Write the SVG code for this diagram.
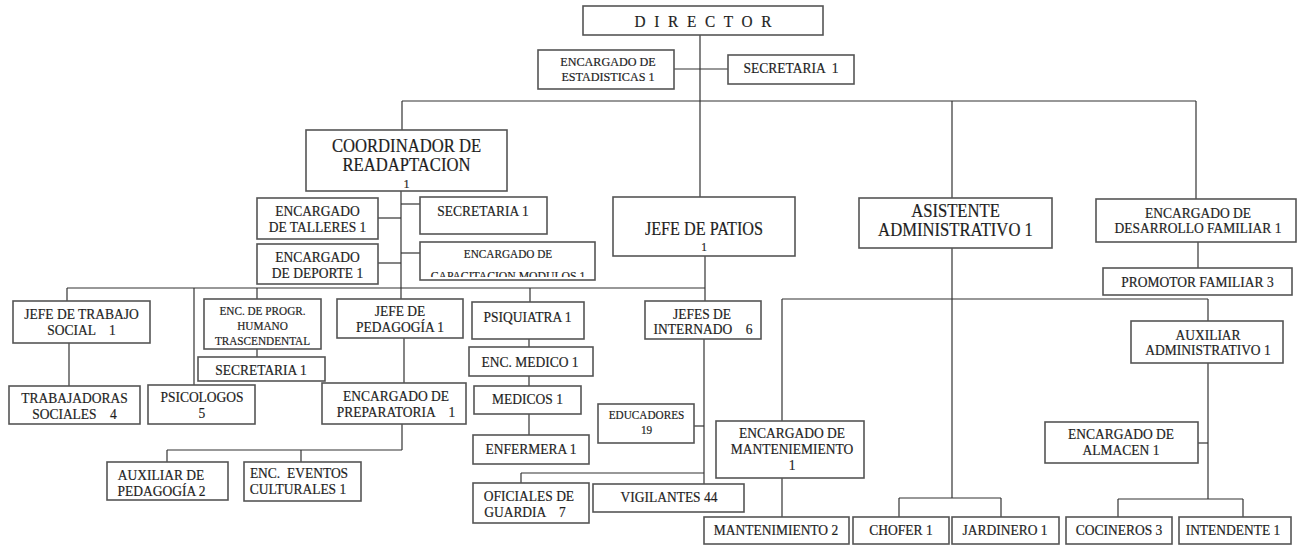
<svg xmlns="http://www.w3.org/2000/svg" width="1302" height="546" viewBox="0 0 1302 546">
<style>
.b{fill:#fff;stroke:#555;stroke-width:1.6}
.c line{stroke:#333;stroke-width:1.2}
text{font-family:"Liberation Serif","Times New Roman",serif;fill:#1e1e1e;stroke:#1e1e1e;stroke-width:.2;text-anchor:middle;font-size:15px;transform-box:fill-box;transform-origin:center;transform:scaleX(.9)}
.L{font-size:18.5px}
.S{font-size:12.5px}
</style>
<defs><clipPath id="capclip"><rect x="420" y="242" width="175" height="35"/></clipPath></defs>
<g class="c">
<line x1="700" y1="35" x2="700" y2="197"/>
<line x1="674" y1="69" x2="728" y2="69"/>
<line x1="402" y1="101" x2="1196" y2="101"/>
<line x1="402" y1="101" x2="402" y2="130"/>
<line x1="952" y1="101" x2="952" y2="198"/>
<line x1="1196" y1="101" x2="1196" y2="199"/>
<line x1="401" y1="191" x2="401" y2="299"/>
<line x1="378" y1="218" x2="401" y2="218"/>
<line x1="378" y1="263" x2="401" y2="263"/>
<line x1="401" y1="204" x2="420" y2="204"/>
<line x1="401" y1="253" x2="420" y2="253"/>
<line x1="67" y1="288" x2="705" y2="288"/>
<line x1="67" y1="288" x2="67" y2="301"/>
<line x1="194" y1="288" x2="194" y2="385"/>
<line x1="257" y1="288" x2="257" y2="299"/>
<line x1="530" y1="288" x2="530" y2="302"/>
<line x1="69" y1="343" x2="69" y2="386"/>
<line x1="257" y1="349" x2="257" y2="357"/>
<line x1="404" y1="338" x2="404" y2="383"/>
<line x1="402" y1="424" x2="402" y2="450"/>
<line x1="167" y1="450" x2="402" y2="450"/>
<line x1="167" y1="450" x2="167" y2="462"/>
<line x1="301" y1="450" x2="301" y2="462"/>
<line x1="529" y1="339" x2="529" y2="347"/>
<line x1="529" y1="376" x2="529" y2="386"/>
<line x1="529" y1="414" x2="529" y2="435"/>
<line x1="705" y1="256" x2="705" y2="301"/>
<line x1="704" y1="339" x2="704" y2="484"/>
<line x1="694" y1="426" x2="704" y2="426"/>
<line x1="521" y1="473" x2="704" y2="473"/>
<line x1="521" y1="473" x2="521" y2="483"/>
<line x1="952" y1="248" x2="952" y2="498"/>
<line x1="899" y1="498" x2="1001" y2="498"/>
<line x1="899" y1="498" x2="899" y2="517"/>
<line x1="1001" y1="498" x2="1001" y2="517"/>
<line x1="782" y1="299" x2="1208" y2="299"/>
<line x1="782" y1="299" x2="782" y2="421"/>
<line x1="782" y1="478" x2="782" y2="517"/>
<line x1="1208" y1="299" x2="1208" y2="321"/>
<line x1="1198" y1="242" x2="1198" y2="268"/>
<line x1="1208" y1="363" x2="1208" y2="499"/>
<line x1="1118" y1="499" x2="1243" y2="499"/>
<line x1="1118" y1="499" x2="1118" y2="517"/>
<line x1="1243" y1="499" x2="1243" y2="517"/>
<line x1="1198" y1="443" x2="1208" y2="443"/>
</g>
<g id="director"><rect class="b" x="583" y="6" width="240" height="29"/><text x="703" y="27" textLength="152" lengthAdjust="spacing" style="font-size:17px">DIRECTOR</text></g>
<g id="estadisticas"><rect class="b" x="538" y="50" width="136" height="39"/><text x="608" y="66" style="font-size:13.5px">ENCARGADO DE</text><text x="608" y="81" style="font-size:13.5px">ESTADISTICAS 1</text></g>
<g id="secretaria-dir"><rect class="b" x="728" y="55" width="126" height="29"/><text x="791" y="73" xml:space="preserve">SECRETARIA  1</text></g>
<g id="coordinador"><rect class="b" x="306" y="130" width="201" height="61"/><text x="406.5" y="152" class="L">COORDINADOR DE</text><text x="406.5" y="171" class="L">READAPTACION</text><text x="406.5" y="188.5" style="font-size:13.5px">1</text></g>
<g id="jefe-patios"><rect class="b" x="613" y="197" width="182" height="59"/><text x="704" y="235.5" class="L" style="font-size:18px">JEFE DE PATIOS</text><text x="704" y="251" style="font-size:12.5px">1</text></g>
<g id="asistente"><rect class="b" x="859" y="198" width="193" height="50"/><text x="955.5" y="217" class="L">ASISTENTE</text><text x="955.5" y="236.5" class="L">ADMINISTRATIVO 1</text></g>
<g id="desarrollo"><rect class="b" x="1096" y="199" width="200" height="43"/><text x="1198" y="218">ENCARGADO DE</text><text x="1198" y="233.5">DESARROLLO FAMILIAR 1</text></g>
<g id="promotor"><rect class="b" x="1103" y="268" width="189" height="27"/><text x="1197.5" y="287">PROMOTOR FAMILIAR 3</text></g>
<g id="talleres"><rect class="b" x="257" y="198" width="121" height="41"/><text x="317.5" y="216.5">ENCARGADO</text><text x="317.5" y="232">DE TALLERES 1</text></g>
<g id="deporte"><rect class="b" x="257" y="244" width="121" height="40"/><text x="317.5" y="262.5">ENCARGADO</text><text x="317.5" y="278">DE DEPORTE 1</text></g>
<g id="secretaria-coord"><rect class="b" x="420" y="197" width="127" height="37"/><text x="483" y="216">SECRETARIA 1</text></g>
<g id="capacitacion"><rect class="b" x="420" y="242" width="175" height="38"/><text x="508" y="258" class="S">ENCARGADO DE</text><g clip-path="url(#capclip)"><text x="508" y="280" style="font-size:13px">CAPACITACION  MODULOS 1</text></g></g>
<g id="trabajo-social"><rect class="b" x="13" y="301" width="137" height="42"/><text x="81.5" y="319.5">JEFE DE TRABAJO</text><text x="81.5" y="335" xml:space="preserve">SOCIAL    1</text></g>
<g id="trabajadoras"><rect class="b" x="9" y="386" width="131" height="38"/><text x="74.5" y="403.5">TRABAJADORAS</text><text x="74.5" y="419" xml:space="preserve">SOCIALES    4</text></g>
<g id="psicologos"><rect class="b" x="148" y="385" width="107" height="39"/><text x="202" y="402.5">PSICOLOGOS</text><text x="202" y="418">5</text></g>
<g id="progr-humano"><rect class="b" x="204" y="299" width="117" height="50"/><text x="262.5" y="315.5" class="S">ENC. DE PROGR.</text><text x="262.5" y="330" class="S">HUMANO</text><text x="262.5" y="345" class="S">TRASCENDENTAL</text></g>
<g id="secretaria-progr"><rect class="b" x="198" y="357" width="127" height="24"/><text x="261" y="375">SECRETARIA 1</text></g>
<g id="pedagogia"><rect class="b" x="337" y="299" width="126" height="39"/><text x="400" y="316.5">JEFE DE</text><text x="400" y="332.5">PEDAGOGÍA 1</text></g>
<g id="preparatoria"><rect class="b" x="322" y="383" width="144" height="41"/><text x="396" y="401.5">ENCARGADO DE</text><text x="396" y="417" xml:space="preserve">PREPARATORIA    1</text></g>
<g id="aux-pedagogia"><rect class="b" x="107" y="462" width="121" height="38"/><text x="161" y="480">AUXILIAR DE</text><text x="161.5" y="496">PEDAGOGÍA 2</text></g>
<g id="eventos"><rect class="b" x="244" y="462" width="117" height="39"/><text x="299" y="478.5" xml:space="preserve">ENC.  EVENTOS</text><text x="298" y="494">CULTURALES 1</text></g>
<g id="psiquiatra"><rect class="b" x="472" y="302" width="112" height="37"/><text x="527.5" y="322">PSIQUIATRA 1</text></g>
<g id="enc-medico"><rect class="b" x="469" y="347" width="124" height="29"/><text x="530" y="367">ENC. MEDICO 1</text></g>
<g id="medicos"><rect class="b" x="474" y="386" width="107" height="28"/><text x="527.5" y="404">MEDICOS 1</text></g>
<g id="enfermera"><rect class="b" x="473" y="435" width="116" height="29"/><text x="531" y="454">ENFERMERA 1</text></g>
<g id="oficiales"><rect class="b" x="473" y="483" width="116" height="40"/><text x="529" y="501.5">OFICIALES DE</text><text x="525" y="517" xml:space="preserve">GUARDIA    7</text></g>
<g id="vigilantes"><rect class="b" x="593" y="484" width="151" height="28"/><text x="669" y="502">VIGILANTES 44</text></g>
<g id="jefes-internado"><rect class="b" x="645" y="301" width="116" height="38"/><text x="702" y="319">JEFES DE</text><text x="703" y="334.5" xml:space="preserve">INTERNADO    6</text></g>
<g id="educadores"><rect class="b" x="598" y="404" width="96" height="39"/><text x="646.5" y="419" class="S">EDUCADORES</text><text x="646.5" y="434" class="S">19</text></g>
<g id="mantenimiento-enc"><rect class="b" x="716" y="421" width="148" height="57"/><text x="792" y="438.5">ENCARGADO DE</text><text x="792" y="454">MANTENIEMIENTO</text><text x="792" y="470">1</text></g>
<g id="mantenimiento"><rect class="b" x="704" y="517" width="145" height="27"/><text x="776" y="535.5">MANTENIMIENTO 2</text></g>
<g id="chofer"><rect class="b" x="853" y="517" width="96" height="27"/><text x="901" y="535.5">CHOFER 1</text></g>
<g id="jardinero"><rect class="b" x="952" y="517" width="107" height="27"/><text x="1005" y="535.5">JARDINERO 1</text></g>
<g id="cocineros"><rect class="b" x="1066" y="517" width="106" height="27"/><text x="1119" y="535.5">COCINEROS 3</text></g>
<g id="intendente"><rect class="b" x="1179" y="517" width="112" height="27"/><text x="1233" y="535.5">INTENDENTE 1</text></g>
<g id="aux-administrativo"><rect class="b" x="1131" y="321" width="152" height="42"/><text x="1208" y="340">AUXILIAR</text><text x="1208" y="355.5">ADMINISTRATIVO 1</text></g>
<g id="almacen"><rect class="b" x="1045" y="422" width="153" height="41"/><text x="1121" y="439.5">ENCARGADO DE</text><text x="1121" y="455">ALMACEN 1</text></g>
</svg>
